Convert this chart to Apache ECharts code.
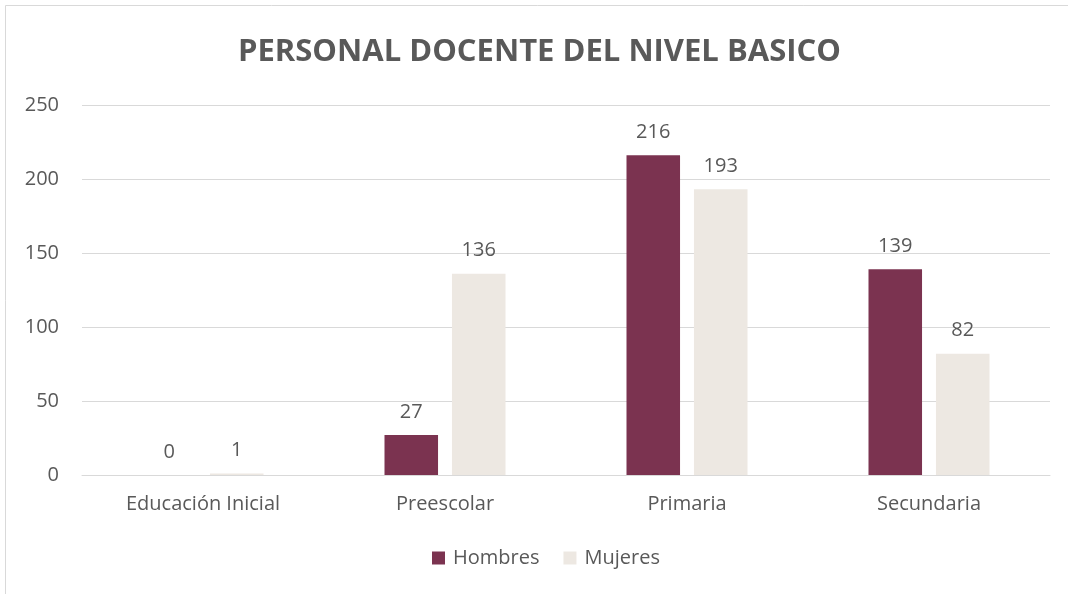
<!DOCTYPE html>
<html>
<head>
<meta charset="utf-8">
<script src="https://cdn.jsdelivr.net/npm/echarts@6/dist/echarts.min.js"></script>
<style>
  html, body { margin: 0; padding: 0; background: #fff; }
  #chart { width: 1068px; height: 594px; }
</style>
</head>
<body>
<div id="chart"></div>
<script>
// Categories and teacher counts by level
const categories = ['Educación Inicial', 'Preescolar', 'Primaria', 'Secundaria'];
const hombres = [0, 27, 216, 139];
const mujeres = [1, 136, 193, 82];
const yTicks = { min: 0, max: 250, interval: 50 };

const textColor = '#595959';
const font = '"Open Sans", "Noto Sans", sans-serif';

const chart = echarts.init(document.getElementById('chart'));
chart.setOption({
  animation: false,
  backgroundColor: '#ffffff',
  graphic: [{
    type: 'rect',
    shape: { x: 5.5, y: 5.5, width: 1100, height: 700 },
    style: { fill: 'none', stroke: '#d9d9d9', lineWidth: 1 },
    silent: true
  }],
  title: {
    text: 'PERSONAL DOCENTE DEL NIVEL BASICO',
    left: 233,
    top: 32,
    textStyle: { color: textColor, fontSize: 31, fontWeight: 'bold', fontFamily: font }
  },
  legend: {
    bottom: 21,
    left: 427,
    itemWidth: 13,
    itemHeight: 13,
    itemGap: 24,
    icon: 'rect',
    textStyle: { color: textColor, fontSize: 20, fontFamily: font, padding: [0, 0, 0, 3] }
  },
  grid: { left: 82, right: 18, top: 105, bottom: 119, containLabel: false },
  xAxis: {
    type: 'category',
    data: categories,
    axisTick: { show: false },
    axisLine: { lineStyle: { color: '#d9d9d9', width: 1 } },
    axisLabel: { color: textColor, fontSize: 20, fontFamily: font, margin: 19 }
  },
  yAxis: {
    type: 'value',
    min: yTicks.min,
    max: yTicks.max,
    interval: yTicks.interval,
    axisLine: { show: false },
    axisTick: { show: false },
    splitLine: { lineStyle: { color: '#d9d9d9', width: 1 } },
    axisLabel: { color: textColor, fontSize: 20, fontFamily: font, margin: 23 }
  },
  series: [
    {
      name: 'Hombres',
      type: 'bar',
      data: hombres,
      itemStyle: { color: '#7b3350' },
      barGap: '26%',
      barCategoryGap: '50%',
      label: { show: true, position: 'top', distance: 13, color: textColor, fontSize: 20, fontFamily: font }
    },
    {
      name: 'Mujeres',
      type: 'bar',
      data: mujeres,
      itemStyle: { color: '#ede8e2' },
      label: { show: true, position: 'top', distance: 13, color: textColor, fontSize: 20, fontFamily: font }
    }
  ]
});
</script>
</body>
</html>
